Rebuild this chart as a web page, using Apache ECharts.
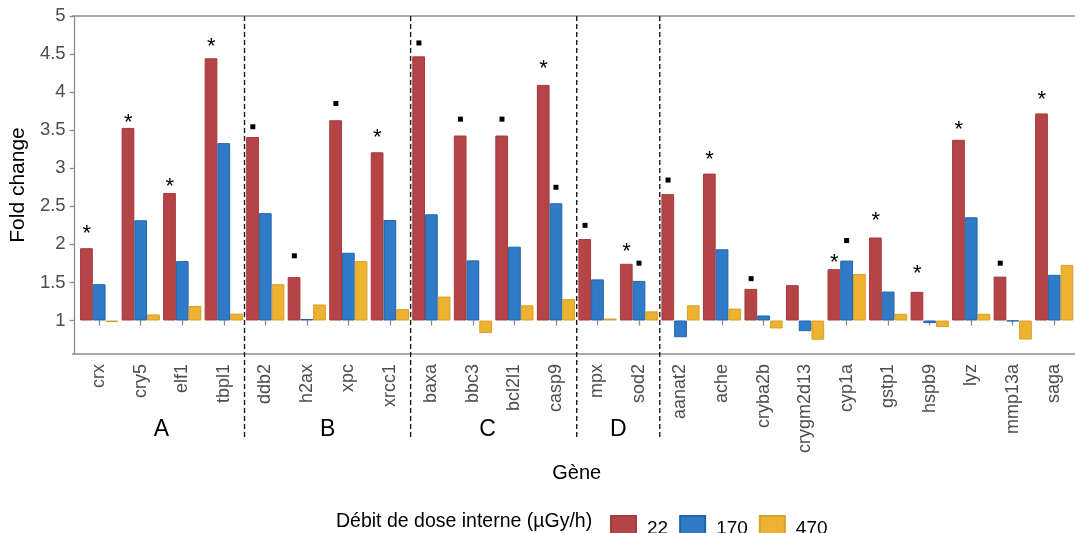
<!DOCTYPE html>
<html><head><meta charset="utf-8">
<script src="https://cdn.jsdelivr.net/npm/echarts@6/dist/echarts.min.js"></script>
<style>html,body{margin:0;padding:0;background:#fff}#c{width:1075px;height:533px}</style>
</head><body><div id="c"></div>
<script>
// ---- data ----
const genes = ['crx','cry5','elf1','tbpl1','ddb2','h2ax','xpc','xrcc1','baxa','bbc3','bcl2l1','casp9','mpx','sod2','aanat2','ache','cryba2b','crygm2d13','cyp1a','gstp1','hspb9','lyz','mmp13a','saga'];
const doses = ['22','170','470'];
const v22  = [1.95,3.53,2.675,4.445,3.41,1.57,3.63,3.21,4.47,3.43,3.43,4.095,2.07,1.745,2.66,2.93,1.415,1.464,1.674,2.09,1.376,3.374,1.577,3.72];
const v170 = [1.477,2.317,1.78,3.33,2.41,1.02,1.89,2.32,2.395,1.79,1.97,2.54,1.54,1.52,0.78,1.936,1.066,0.86,1.787,1.38,0.966,2.356,0.99,1.60];
const v470 = [0.98,1.08,1.19,1.09,1.477,1.21,1.78,1.15,1.315,0.835,1.2,1.28,1.026,1.12,1.2,1.157,0.895,0.747,1.61,1.088,0.913,1.088,0.75,1.73];
// significance markers ('*' or '.') and their heights
const sig22  = ['*','*','*','*','.','.','.','*','.','.','.','*','.','*','.','*','.','','*','*','*','*','.','*'];
const pos22  = [2.21,3.667,2.82,4.66,3.545,1.85,3.85,3.466,4.646,3.645,3.645,4.367,2.25,1.97,2.845,3.17,1.55,null,1.826,2.373,1.674,3.57,1.753,3.97];
const sig170 = ['','','','','','','','','','','','.','','.','','','','','.','','','','',''];
const pos170 = [null,null,null,null,null,null,null,null,null,null,null,2.75,null,1.753,null,null,null,null,2.05,null,null,null,null,null];
const groupNames = ['A','B','C','D'];
const groupLabelX = [1.5,5.5,9.35,12.5];   // category-index position of group labels
const groupBreaks = [3,7,11,13];           // dashed line after these category indices
const yTicks = [1,1.5,2,2.5,3,3.5,4,4.5,5];
const yMin = 0.56, yMax = 5, base = 1;

const FONT = "'Liberation Sans', Arial, sans-serif";
const colors = ['#B44445','#2F7BC8','#EDB230'];
const borders = ['#A83B3C','#2464A8','#D6A02C'];
const values = [v22, v170, v470];

const markerData = [];
[[sig22,pos22,0],[sig170,pos170,1]].forEach(([sig,pos,d])=>{
  sig.forEach((s,i)=>{ if(s) markerData.push([i, d, pos[i], s==='*'?0:1]); });
});

const chart = echarts.init(document.getElementById('c'), null, {renderer:'canvas'});
const option = {
  animation:false,
  textStyle:{fontFamily:FONT},
  grid:{left:75.8, right:-5, top:16, bottom:179, containLabel:false},
  legend:{
    data:doses, left:605, top:510, itemWidth:25, itemHeight:25, itemGap:11, icon:'rect',
    textStyle:{fontSize:19, color:'#000', fontFamily:FONT, padding:[0,0,0,6]}
  },
  xAxis:{
    type:'category', data:genes, boundaryGap:true,
    axisLine:{show:false},
    axisTick:{show:true, alignWithLabel:true, length:5, lineStyle:{color:'#8c8c8c', width:1.3}},
    axisLabel:{rotate:90, interval:0, fontSize:18, color:'#4d4d4d', margin:10, fontFamily:FONT},
    splitLine:{show:false},
    name:'Gène', nameLocation:'middle', nameGap:109,
    nameTextStyle:{fontSize:20, color:'#000', fontFamily:FONT}
  },
  yAxis:{
    type:'value', min:yMin-base, max:yMax-base, offset:3.8,
    axisLine:{show:true, lineStyle:{color:'#8c8c8c', width:1.3}},
    axisTick:{show:true, length:5, customValues:yTicks.map(v=>v-base), lineStyle:{color:'#8c8c8c', width:1.3}},
    axisLabel:{fontSize:18.5, color:'#4d4d4d', margin:9, fontFamily:FONT,
      customValues:yTicks.map(v=>v-base),
      formatter:v=>String(Math.round((v+base)*10)/10)},
    splitLine:{show:false},
    name:'Fold change', nameLocation:'middle', nameGap:34, nameRotate:90,
    nameTextStyle:{fontSize:21, color:'#000', fontFamily:FONT}
  },
  series:[
    ...doses.map((d,k)=>({
      name:d, type:'bar', data:values[k].map(v=>+(v-base).toFixed(4)),
      barGap:'0%', barCategoryGap:'8%',
      itemStyle:{color:colors[k], borderColor:borders[k], borderWidth:1}
    })),
    {
      type:'custom', data:markerData, clip:false, silent:true,
      encode:{x:0, y:2},
      renderItem:(params, api)=>{
        const c = api.coord([api.value(0), api.value(2)-base]);
        const bw = api.size([1,0])[0];
        const x = c[0] + (api.value(1)-1)*bw*0.3;
        if (api.value(3)===0) {
          const fs = 22;
          return {type:'text', style:{text:'*', x:x, y:c[1]+fs*0.23, fontSize:fs, fontFamily:FONT, fill:'#000', align:'center', verticalAlign:'middle'}};
        }
        return {type:'rect', shape:{x:x-2.5, y:c[1]-2.5, width:5, height:5}, style:{fill:'#000'}};
      }
    }
  ]
};
chart.setOption(option);

// frame lines, dashed group separators, group labels
const px = i => chart.convertToPixel({xAxisIndex:0}, i);
const pyTop = chart.convertToPixel({yAxisIndex:0}, yMax-base);
const pyBot = chart.convertToPixel({yAxisIndex:0}, yMin-base);
const xLeft = 75.8 - 3.8;
const xRight = 1080;
const g = [];
g.push({type:'line', shape:{x1:xLeft, y1:pyTop, x2:xRight, y2:pyTop}, style:{stroke:'#8c8c8c', lineWidth:1.3}, z:5});
g.push({type:'line', shape:{x1:xLeft, y1:pyBot, x2:xRight, y2:pyBot}, style:{stroke:'#8c8c8c', lineWidth:1.3}, z:5});
groupBreaks.forEach(i=>{
  const x = (px(i)+px(i+1))/2;
  g.push({type:'line', shape:{x1:x, y1:pyTop, x2:x, y2:437}, style:{stroke:'#1a1a1a', lineWidth:1.4, lineDash:[5,3]}, z:6});
});
groupNames.forEach((n,k)=>{
  const f = groupLabelX[k], i0 = Math.floor(f);
  const x = px(i0) + (f-i0)*(px(i0+1)-px(i0));
  g.push({type:'text', style:{text:n, x:x, y:430, fontSize:23, fontFamily:FONT, fill:'#000', align:'center', verticalAlign:'middle'}, z:6});
});
g.push({type:'text', style:{text:'Débit de dose interne (µGy/h)', x:336, y:522, fontSize:19.5, fontFamily:FONT, fill:'#000', align:'left', verticalAlign:'middle'}});
chart.setOption({graphic:g});
</script>
</body></html>
